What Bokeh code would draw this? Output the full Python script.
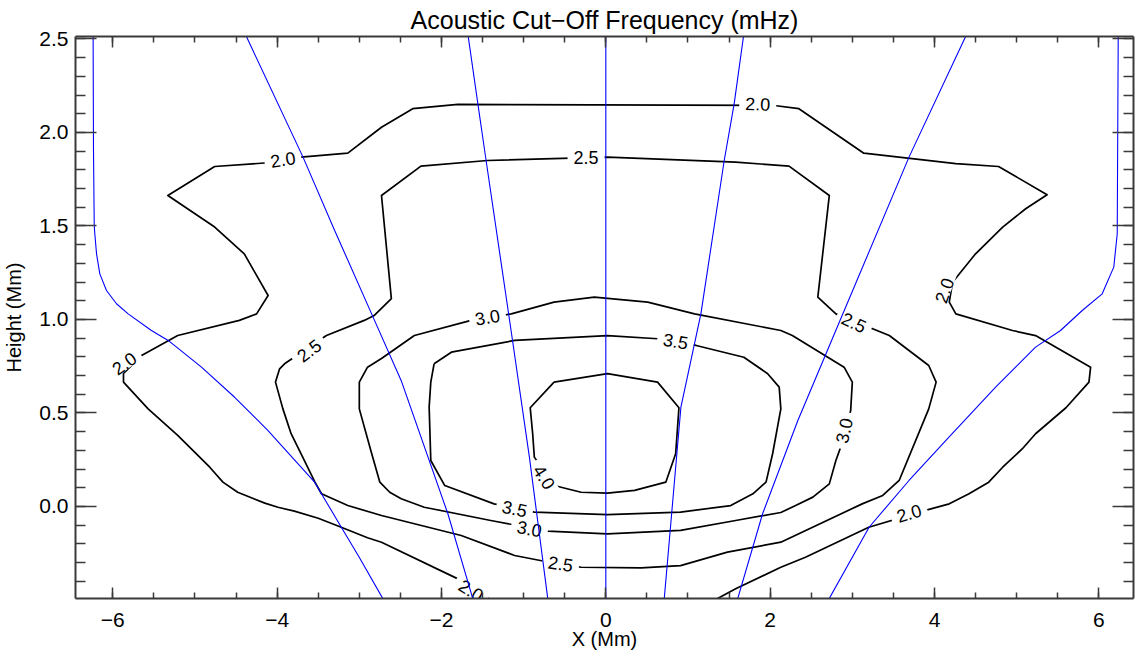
from bokeh.plotting import figure
from bokeh.models import (LinearAxis, Range1d, SingleIntervalTicker, Title,
                          NumeralTickFormatter, ColumnDataSource)
from bokeh.core.properties import value
from bokeh.embed import file_html
from bokeh.resources import INLINE

FONT = "Liberation Sans"

# ---- contour levels (mHz) and their traced contour paths (X in Mm, height in Mm)
levels = [2.0, 2.5, 3.0, 3.5, 4.0]

c20_x = [-1.30, -1.48, -1.64, -1.80, -2.73, -2.90, -3.22, -3.50, -3.79, -3.99, -4.15,
         -4.48, -4.66, -4.82, -5.21, -5.57, -5.87, -5.87, -5.65, -5.21, -4.46, -4.25,
         -4.11, -4.40, -4.76, -5.33, -4.76, -4.11, -3.71, -3.14, -2.73, -2.35, -1.80,
         2.05, 2.35, 3.14, 4.26, 4.78, 5.37, 5.11, 4.83, 4.50, 4.22, 4.18, 4.26, 4.95,
         5.23, 5.90, 5.88, 5.60, 5.23, 5.07, 4.83, 4.66, 4.42, 4.18, 3.89, 3.20, 2.43,
         2.13, 1.58, 1.20]
c20_y = [-0.53, -0.476, -0.432, -0.387, -0.191, -0.167, -0.111, -0.063, -0.025, -0.004,
         0.018, 0.076, 0.130, 0.210, 0.380, 0.522, 0.665, 0.711, 0.807, 0.914, 0.995,
         1.030, 1.128, 1.351, 1.494, 1.663, 1.818, 1.838, 1.868, 1.889, 2.028, 2.127,
         2.150, 2.144, 2.127, 1.889, 1.833, 1.818, 1.667, 1.592, 1.494, 1.351, 1.199,
         1.093, 1.030, 0.941, 0.914, 0.745, 0.665, 0.528, 0.389, 0.309, 0.210, 0.130,
         0.068, 0.014, -0.021, -0.111, -0.271, -0.325, -0.440, -0.53]

c25_x = [-3.14, -2.73, -1.76, -1.11, -0.75, -0.30, 0.43, 0.91, 1.48, 2.13, 3.12, 3.37,
         3.57, 3.93, 4.02, 3.93, 3.45, 2.80, 2.58, 2.72, 2.23, 1.58, 0.02, -1.44, -2.25,
         -2.73, -2.61, -2.82, -2.94, -3.40, -3.91, -3.97, -4.02, -3.93, -3.83, -3.71,
         -3.54, -3.46, -3.14]
c25_y = [0.005, -0.048, -0.155, -0.262, -0.293, -0.325, -0.328, -0.316, -0.244, -0.191,
         0.014, 0.059, 0.139, 0.522, 0.665, 0.754, 0.914, 1.030, 1.119, 1.663, 1.820,
         1.841, 1.868, 1.850, 1.820, 1.663, 1.111, 1.021, 0.995, 0.914, 0.763, 0.736,
         0.665, 0.522, 0.389, 0.282, 0.130, 0.068, 0.005]

c30_x = [-1.15, -0.63, -0.14, 0.51, 1.08, 2.13, 2.27, 2.90, 3.00, 2.98, 2.88, 2.80, 2.72,
         2.52, 2.31, 2.13, 1.58, 0.91, 0.02, -0.71, -1.40, -2.21, -2.49, -2.63, -2.75,
         -2.86, -3.00, -3.00, -2.90, -2.73, -2.33, -1.64, -1.15]
c30_y = [1.030, 1.093, 1.119, 1.093, 1.030, 0.941, 0.914, 0.745, 0.665, 0.513, 0.344,
         0.246, 0.121, 0.050, 0.005, -0.032, -0.075, -0.128, -0.146, -0.132, -0.075,
         -0.004, 0.041, 0.076, 0.130, 0.299, 0.522, 0.665, 0.745, 0.791, 0.914, 0.995,
         1.030]

c35_x = [-2.09, -1.88, -1.11, 0.02, 0.63, 1.10, 1.68, 1.97, 2.11, 2.13, 2.03, 1.95,
         1.79, 1.52, 0.91, 0.02, -0.87, -1.36, -1.96, -2.13, -2.15, -2.13, -2.09]
c35_y = [0.763, 0.825, 0.888, 0.914, 0.897, 0.861, 0.798, 0.710, 0.638, 0.522, 0.282,
         0.130, 0.068, 0.005, -0.030, -0.043, -0.030, 0.014, 0.112, 0.246, 0.531, 0.665,
         0.763]

c40_x = [-0.63, 0.02, 0.63, 0.89, 0.85, 0.73, 0.35, 0.02, -0.30, -0.63, -0.87, -0.89,
         -0.92, -0.63]
c40_y = [0.665, 0.710, 0.665, 0.528, 0.282, 0.130, 0.086, 0.071, 0.076, 0.112, 0.264,
         0.389, 0.528, 0.665]

# ---- in-line contour labels: position, level and orientation (degrees)
lab_x = [-3.93, 1.85, 4.12, -5.86, -1.64, 3.69, -3.61, -0.24, 3.02, -0.55,
         -1.44, 2.90, -0.93, 0.85, -1.11, -0.75]
lab_y = [1.855, 2.153, 1.155, 0.765, -0.449, -0.036, 0.834, 1.868, 0.984, -0.306,
         1.012, 0.406, -0.119, 0.884, -0.012, 0.157]
lab_level = [2.0, 2.0, 2.0, 2.0, 2.0, 2.0, 2.5, 2.5, 2.5, 2.5,
             3.0, 3.0, 3.0, 3.5, 3.5, 4.0]
lab_angle = [9, -2, 70, 35, -32, 17, 37, 0, -24, -9, 10, 78, -11, -10, -12, -57]

# ---- magnetic field lines
f1_x = [-6.24, -6.235, -6.226, -6.219, -6.198, -6.158, -6.077, -5.955, -5.813, -5.530,
        -5.326, -4.921, -4.517, -4.111, -3.544, -3.219, -3.001, -2.712, -2.64]
f1_y = [2.56, 1.904, 1.503, 1.458, 1.351, 1.244, 1.155, 1.084, 1.030, 0.941,
        0.888, 0.745, 0.584, 0.406, 0.130, -0.111, -0.271, -0.494, -0.55]
f2_x = [-4.41, -4.374, -3.685, -3.30, -2.815, -2.491, -1.922, -1.618, -1.58]
f2_y = [2.56, 2.513, 1.868, 1.476, 0.995, 0.674, -0.039, -0.494, -0.55]
f3_x = [-1.69, -1.557, -1.457, -1.153, -0.930, -0.706, -0.70]
f3_y = [2.56, 2.153, 1.850, 0.941, 0.264, -0.494, -0.55]
f4_x = [0.0, 0.0]
f4_y = [2.56, -0.55]
f5_x = [1.69, 1.562, 1.441, 1.157, 0.914, 0.711, 0.70]
f5_y = [2.56, 2.153, 1.850, 1.030, 0.531, -0.494, -0.55]
f6_x = [4.41, 4.379, 3.690, 2.799, 2.337, 1.908, 1.604, 1.57]
f6_y = [2.56, 2.513, 1.868, 0.941, 0.460, -0.039, -0.494, -0.55]
f7_x = [6.24, 6.236, 6.224, 6.182, 6.041, 5.798, 5.534, 5.230, 4.744, 4.176, 3.690,
        3.204, 2.717, 2.64]
f7_y = [2.56, 2.513, 1.458, 1.280, 1.137, 1.048, 0.941, 0.852, 0.638, 0.371, 0.139,
        -0.111, -0.494, -0.55]

x_lo, x_hi = -6.454, 6.422
y_lo, y_hi = -0.492, 2.513

p = figure(width=1135, height=652, output_backend="svg", toolbar_location=None,
           x_range=Range1d(x_lo, x_hi), y_range=Range1d(y_lo, y_hi),
           min_border_left=74, min_border_right=2, min_border_top=36,
           min_border_bottom=54, background_fill_color="white",
           border_fill_color="white")
p.outline_line_color = None
p.xgrid.visible = False
p.ygrid.visible = False

p.title = Title(text="Acoustic Cut\u2212Off Frequency (mHz)", align="center",
                text_font=FONT, text_font_size="25px", text_font_style="normal",
                text_color="black", standoff=5)

AX_COLOR = "#3a3a3a"


def style_axis(ax, major_in, minor_in, show_labels):
    ax.axis_line_color = AX_COLOR
    ax.axis_line_width = 2
    ax.major_tick_line_color = AX_COLOR
    ax.minor_tick_line_color = AX_COLOR
    ax.major_tick_line_width = 1.5
    ax.minor_tick_line_width = 1.5
    ax.major_tick_in = major_in
    ax.major_tick_out = 0
    ax.minor_tick_in = minor_in
    ax.minor_tick_out = 0
    if show_labels:
        ax.major_label_text_font = FONT
        ax.major_label_text_font_size = "21px"
        ax.major_label_text_color = "black"
        ax.axis_label_text_font = FONT
        ax.axis_label_text_font_size = "20px"
        ax.axis_label_text_font_style = "normal"
        ax.axis_label_text_color = "black"
    else:
        # frame side with ticks only: no tick labels drawn
        ax.major_label_text_font_size = "1px"
        ax.major_label_text_color = None
        ax.major_label_standoff = 0


x_ticker = SingleIntervalTicker(interval=2, num_minor_ticks=4)
y_ticker = SingleIntervalTicker(interval=0.5, num_minor_ticks=5)
minus = {-6: "\u22126", -4: "\u22124", -2: "\u22122"}

xb = p.xaxis[0]
xb.ticker = x_ticker
xb.axis_label = "X (Mm)"
xb.major_label_overrides = minus
style_axis(xb, 11, 6, True)
xb.major_label_standoff = 14
xb.axis_label_standoff = -2

yl = p.yaxis[0]
yl.ticker = y_ticker
yl.formatter = NumeralTickFormatter(format="0.0")
yl.axis_label = "Height (Mm)"
style_axis(yl, 21, 10, True)
yl.major_label_standoff = 7
yl.axis_label_standoff = 11

xt = LinearAxis(ticker=SingleIntervalTicker(interval=2, num_minor_ticks=4))
style_axis(xt, 11, 6, False)
p.add_layout(xt, "above")

yr = LinearAxis(ticker=SingleIntervalTicker(interval=0.5, num_minor_ticks=5))
style_axis(yr, 21, 10, False)
p.add_layout(yr, "right")

# contour lines
cont_x = [c20_x, c25_x, c30_x, c35_x, c40_x]
cont_y = [c20_y, c25_y, c30_y, c35_y, c40_y]
p.multi_line(xs=cont_x, ys=cont_y, line_color="black", line_width=1.7,
             line_join="round")

# contour labels, masking the line underneath
lab_src = ColumnDataSource(dict(
    x=lab_x, y=lab_y, angle=lab_angle,
    text=["%.1f" % v for v in lab_level]))
p.text(x="x", y="y", text="text", angle="angle", angle_units="deg", source=lab_src,
       text_font=value(FONT), text_font_size="18px", text_color="black",
       text_align="center", text_baseline="middle",
       background_fill_color="white",
       padding=dict(left=6, right=6, top=0, bottom=0))

# field lines
fx = [f1_x, f2_x, f3_x, f4_x, f5_x, f6_x, f7_x]
fy = [f1_y, f2_y, f3_y, f4_y, f5_y, f6_y, f7_y]
p.multi_line(xs=fx, ys=fy, line_color="#0000ff", line_width=1.1)

open("out.html", "w").write(file_html(p, INLINE))
